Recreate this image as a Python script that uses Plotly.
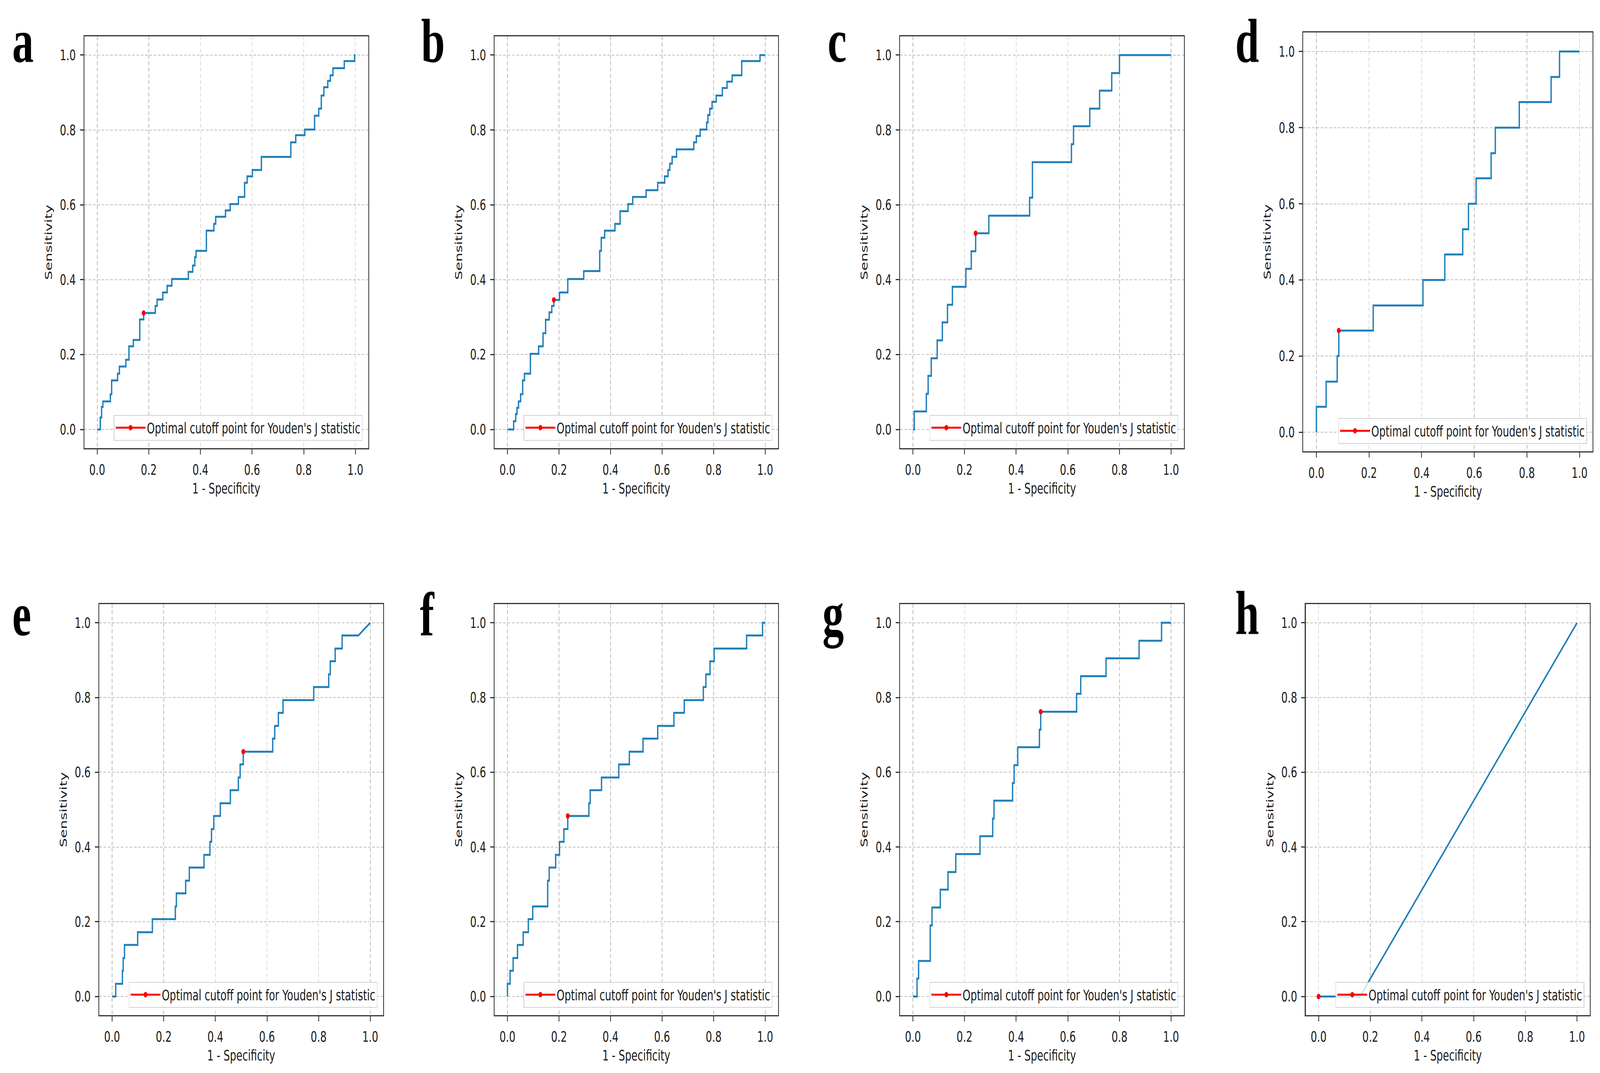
import plotly.graph_objects as go

# ---------------- data ----------------
# ROC curves: 1-specificity where sensitivity rises, and sensitivity after the rise.
jump_fpr_a = [0.012, 0.017, 0.022, 0.051, 0.056, 0.079, 0.086, 0.111, 0.123, 0.140, 0.165, 0.180,
              0.225, 0.232, 0.254, 0.271, 0.289, 0.353, 0.370, 0.378, 0.383, 0.423, 0.452, 0.459,
              0.497, 0.515, 0.547, 0.571, 0.581, 0.601, 0.636, 0.750, 0.769, 0.804, 0.842, 0.858,
              0.868, 0.878, 0.893, 0.903, 0.913, 0.957, 0.997]
jump_tpr_a = [0.032, 0.060, 0.075, 0.094, 0.131, 0.149, 0.168, 0.186, 0.222, 0.239, 0.294, 0.311,
              0.330, 0.347, 0.366, 0.384, 0.402, 0.421, 0.438, 0.460, 0.477, 0.531, 0.549, 0.568,
              0.585, 0.602, 0.621, 0.659, 0.676, 0.693, 0.728, 0.767, 0.786, 0.801, 0.838, 0.857,
              0.892, 0.914, 0.931, 0.946, 0.965, 0.984, 1.000]
opt_a = (0.180, 0.311)

jump_fpr_b = [0.024, 0.032, 0.037, 0.043, 0.051, 0.059, 0.066, 0.089, 0.121, 0.138, 0.148, 0.162,
              0.172, 0.180, 0.202, 0.234, 0.296, 0.358, 0.364, 0.377, 0.417, 0.437, 0.468, 0.486,
              0.538, 0.583, 0.610, 0.623, 0.630, 0.639, 0.656, 0.723, 0.733, 0.748, 0.773, 0.778,
              0.785, 0.794, 0.810, 0.834, 0.852, 0.872, 0.909, 0.980]
jump_tpr_b = [0.022, 0.041, 0.058, 0.075, 0.094, 0.131, 0.149, 0.202, 0.222, 0.257, 0.293, 0.313,
              0.330, 0.346, 0.366, 0.402, 0.423, 0.477, 0.512, 0.531, 0.549, 0.583, 0.602, 0.621,
              0.639, 0.659, 0.676, 0.693, 0.710, 0.728, 0.748, 0.767, 0.784, 0.801, 0.820, 0.840,
              0.857, 0.875, 0.892, 0.912, 0.929, 0.946, 0.984, 1.000]
opt_b = (0.180, 0.346)

jump_fpr_c = [0.005, 0.052, 0.059, 0.071, 0.094, 0.114, 0.134, 0.153, 0.205, 0.226, 0.243, 0.294,
              0.452, 0.463, 0.614, 0.622, 0.685, 0.723, 0.770, 0.800]
jump_tpr_c = [0.048, 0.095, 0.143, 0.190, 0.238, 0.286, 0.333, 0.381, 0.429, 0.476, 0.524, 0.571,
              0.619, 0.714, 0.762, 0.810, 0.857, 0.905, 0.952, 1.000]
opt_c = (0.243, 0.524)

jump_fpr_d = [0.000, 0.037, 0.079, 0.085, 0.216, 0.405, 0.488, 0.556, 0.578, 0.607, 0.664, 0.680,
              0.771, 0.892, 0.924]
jump_tpr_d = [0.067, 0.133, 0.200, 0.267, 0.333, 0.400, 0.467, 0.533, 0.600, 0.667, 0.733, 0.800,
              0.867, 0.933, 1.000]
opt_d = (0.085, 0.267)

jump_fpr_e = [0.014, 0.040, 0.043, 0.048, 0.099, 0.156, 0.245, 0.249, 0.285, 0.299, 0.356, 0.379,
              0.385, 0.394, 0.419, 0.458, 0.489, 0.496, 0.508, 0.622, 0.630, 0.644, 0.662, 0.781,
              0.839, 0.845, 0.864, 0.891, 0.954]
jump_tpr_e = [0.034, 0.069, 0.103, 0.138, 0.172, 0.207, 0.241, 0.276, 0.310, 0.345, 0.379, 0.414,
              0.448, 0.483, 0.517, 0.552, 0.586, 0.621, 0.655, 0.690, 0.724, 0.759, 0.793, 0.828,
              0.862, 0.897, 0.931, 0.966, 0.966]
opt_e = (0.508, 0.655)

jump_fpr_f = [0.000, 0.010, 0.022, 0.039, 0.061, 0.081, 0.098, 0.156, 0.162, 0.187, 0.202, 0.219,
              0.234, 0.316, 0.321, 0.365, 0.432, 0.473, 0.526, 0.583, 0.646, 0.686, 0.760, 0.770,
              0.786, 0.802, 0.928, 0.990]
jump_tpr_f = [0.034, 0.069, 0.103, 0.138, 0.172, 0.207, 0.241, 0.310, 0.345, 0.379, 0.414, 0.448,
              0.483, 0.517, 0.552, 0.586, 0.621, 0.655, 0.690, 0.724, 0.759, 0.793, 0.828, 0.862,
              0.897, 0.931, 0.966, 1.000]
opt_f = (0.234, 0.483)

jump_fpr_g = [0.016, 0.022, 0.067, 0.074, 0.106, 0.136, 0.166, 0.260, 0.309, 0.314, 0.386, 0.392,
              0.406, 0.490, 0.495, 0.634, 0.650, 0.748, 0.876, 0.963]
jump_tpr_g = [0.048, 0.095, 0.190, 0.238, 0.286, 0.333, 0.381, 0.429, 0.476, 0.524, 0.571, 0.619,
              0.667, 0.714, 0.762, 0.810, 0.857, 0.905, 0.952, 1.000]
opt_g = (0.495, 0.762)

jump_fpr_h = [0.160]
jump_tpr_h = [0.000]
opt_h = (0.0, 0.0)

panel_labels = ["a", "b", "c", "d", "e", "f", "g", "h"]
tick_values = [0.0, 0.2, 0.4, 0.6, 0.8, 1.0]
tick_text = ["0.0", "0.2", "0.4", "0.6", "0.8", "1.0"]
legend_text = "Optimal cutoff point for Youden's J statistic"
x_title = "1 - Specificity"
y_title = "Sensitivity"

# ---------------- layout geometry (pixels of the 5904 x 2746 reference) ----------------
W, H = 5904, 2746
frames = {  # left, right, top, bottom
    "a": (311, 1359, 93, 1147),
    "b": (1825, 2871, 93, 1147),
    "c": (3321, 4369, 93, 1147),
    "d": (4809, 5877, 83, 1155),
    "e": (366, 1414, 1546, 2598),
    "f": (1825, 2871, 1546, 2598),
    "g": (3321, 4369, 1546, 2598),
    "h": (4818, 5867, 1546, 2598),
}
letter_pos = {  # left edge, baseline
    "a": (47, 158), "b": (1556, 158), "c": (3056, 158), "d": (4560, 158),
    "e": (47, 1626), "f": (1551, 1626), "g": (3037, 1626), "h": (4560, 1622),
}

curves = {
    "a": (jump_fpr_a, jump_tpr_a, opt_a),
    "b": (jump_fpr_b, jump_tpr_b, opt_b),
    "c": (jump_fpr_c, jump_tpr_c, opt_c),
    "d": (jump_fpr_d, jump_tpr_d, opt_d),
    "e": (jump_fpr_e, jump_tpr_e, opt_e),
    "f": (jump_fpr_f, jump_tpr_f, opt_f),
    "g": (jump_fpr_g, jump_tpr_g, opt_g),
    "h": (jump_fpr_h, jump_tpr_h, opt_h),
}

BLUE = "#1f7fbb"
FONT = "DejaVu Sans"
FS = 37
TXT = "#1a1a1a"


def roc_path(jx, jy):
    xs, ys = [0.0], [0.0]
    for x, y in zip(jx, jy):
        prev = ys[-1]
        xs += [x, x]
        ys += [prev, y]
    xs.append(1.0)
    ys.append(1.0)
    return xs, ys


fig = go.Figure()
layout = dict(
    width=W, height=H,
    margin=dict(l=0, r=0, t=0, b=0),
    paper_bgcolor="white", plot_bgcolor="white",
    font=dict(family=FONT, size=FS, color=TXT),
    annotations=[],
)

for i, key in enumerate(panel_labels):
    n = i + 1
    xid = "x" if n == 1 else f"x{n}"
    yid = "y" if n == 1 else f"y{n}"
    lid = "legend" if n == 1 else f"legend{n}"
    jx, jy, opt = curves[key]
    px, py = roc_path(jx, jy)

    fig.add_trace(go.Scatter(x=px, y=py, mode="lines", line=dict(color=BLUE, width=5),
                             showlegend=False, xaxis=xid, yaxis=yid, hoverinfo="skip"))
    fig.add_trace(go.Scatter(x=[opt[0]], y=[opt[1]], mode="lines+markers", name=legend_text,
                             marker=dict(color="red", size=14), line=dict(color="red", width=5),
                             legend=lid, showlegend=True, xaxis=xid, yaxis=yid))

    l, r, t, b = frames[key]
    xdom = [l / W, r / W]
    ydom = [1 - b / H, 1 - t / H]
    axis_common = dict(
        range=[-0.05, 1.05], tickmode="array", tickvals=tick_values, ticktext=tick_text,
        showgrid=True, gridcolor="#bdbdbd", gridwidth=2, griddash="10px,6px",
        zeroline=False, showline=True, linecolor="#333333", linewidth=3, mirror=True,
        ticks="outside", ticklen=13, tickwidth=3, tickcolor="#333333",
        tickfont=dict(family=FONT, size=FS, color=TXT), ticklabelstandoff=8,
    )
    layout["xaxis" if n == 1 else f"xaxis{n}"] = dict(
        axis_common, domain=xdom, anchor=yid,
        title=dict(text=x_title, font=dict(family=FONT, size=FS, color=TXT), standoff=14),
    )
    layout["yaxis" if n == 1 else f"yaxis{n}"] = dict(
        axis_common, domain=ydom, anchor=xid,
        title=dict(text=y_title, font=dict(family=FONT, size=FS, color=TXT), standoff=18),
    )
    layout[lid] = dict(
        x=(r - 21) / W, y=1 - (b - 19) / H, xanchor="right", yanchor="bottom",
        xref="paper", yref="paper",
        bgcolor="rgba(255,255,255,0.8)", bordercolor="#d0d0d0", borderwidth=2,
        font=dict(family=FONT, size=FS, color=TXT), itemwidth=110,
    )
    lx, lbase = letter_pos[key]
    layout["annotations"].append(dict(
        text="<b>" + key + "</b>", xref="paper", yref="paper",
        x=(lx - 4) / W, y=1 - (lbase + 36) / H, xanchor="left", yanchor="bottom",
        showarrow=False, font=dict(family="Liberation Serif", size=158, color="black"),
    ))

fig.update_layout(**layout)

# Fit the 5904 x 2746 figure into whatever viewport the browser actually provides.
fit_js = """
(function(){
  var gd = document.getElementById('{plot_id}');
  document.documentElement.style.margin = '0';
  document.documentElement.style.overflow = 'hidden';
  document.body.style.margin = '0';
  document.body.style.overflow = 'hidden';
  var sx = window.innerWidth / %d, sy = window.innerHeight / %d;
  if (Math.abs(sx - 1) > 0.002 || Math.abs(sy - 1) > 0.002) {
    gd.style.transformOrigin = '0 0';
    gd.style.transform = 'scale(' + sx + ',' + sy + ')';
  }
})();
""" % (W, H)
fig.write_html("out.html", post_script=fit_js, config={"displayModeBar": False})
